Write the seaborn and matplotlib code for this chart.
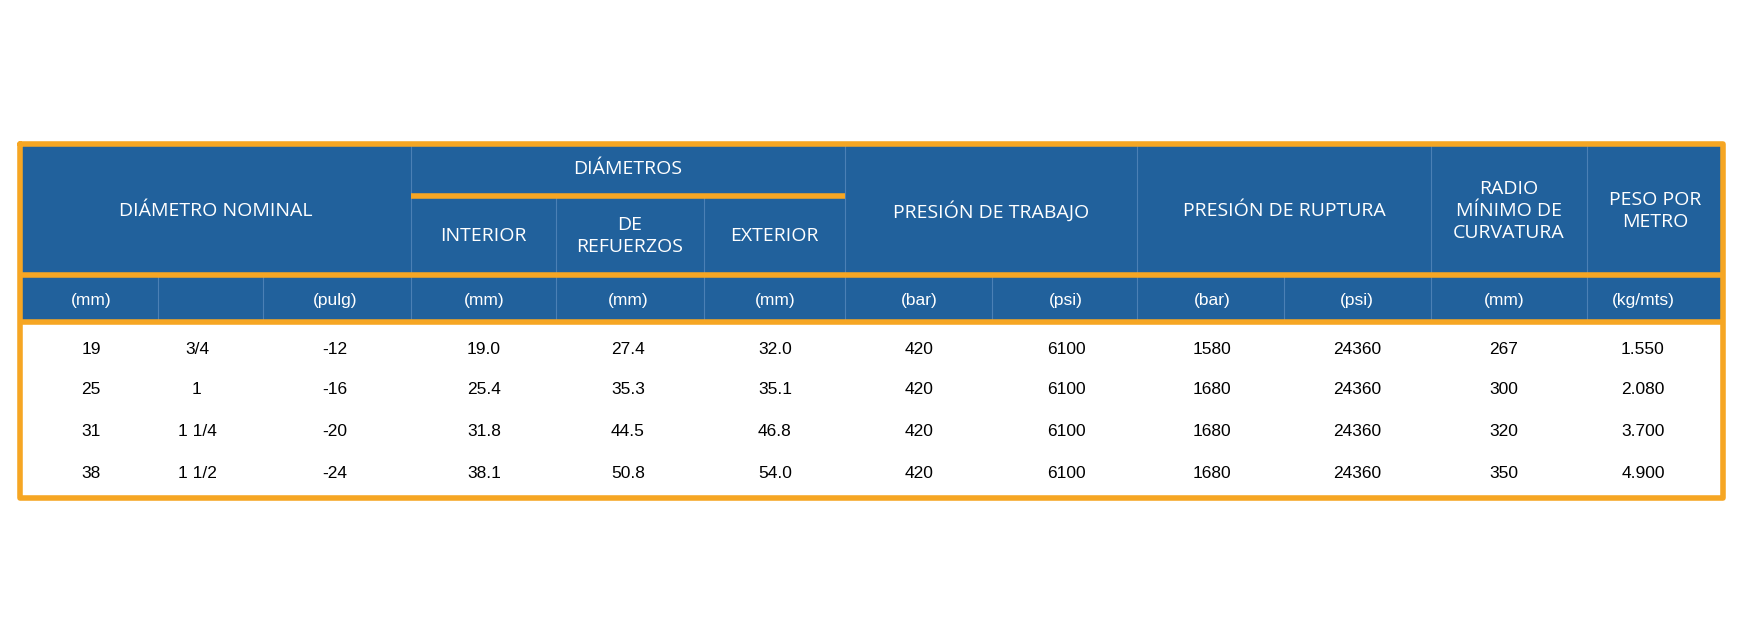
import matplotlib
matplotlib.use("Agg")
import matplotlib.pyplot as plt
import seaborn as sns

sns.set_theme(style="white")

BLUE = "#21619c"
ORANGE = "#f6a623"
SEP = "#4b80b5"

nominal_mm = ["19", "25", "31", "38"]
nominal_in = ["3/4", "1", "1 1/4", "1 1/2"]
dash_size = ["-12", "-16", "-20", "-24"]
d_interior = ["19.0", "25.4", "31.8", "38.1"]
d_refuerzos = ["27.4", "35.3", "44.5", "50.8"]
d_exterior = ["32.0", "35.1", "46.8", "54.0"]
work_bar = ["420", "420", "420", "420"]
work_psi = ["6100", "6100", "6100", "6100"]
burst_bar = ["1580", "1680", "1680", "1680"]
burst_psi = ["24360", "24360", "24360", "24360"]
bend_radius = ["267", "300", "320", "350"]
weight = ["1.550", "2.080", "3.700", "4.900"]

units = ["(mm)", "", "(pulg)", "(mm)", "(mm)", "(mm)", "(bar)", "(psi)",
         "(bar)", "(psi)", "(mm)", "(kg/mts)"]

columns = [nominal_mm, nominal_in, dash_size, d_interior, d_refuerzos, d_exterior,
           work_bar, work_psi, burst_bar, burst_psi, bend_radius, weight]

# column edges in pixels
edges = [20, 158, 263, 411, 556, 704, 845, 992, 1137, 1284, 1431, 1587, 1723]
row_y = [349, 390, 431, 474]

W, H = 1743, 641
fig = plt.figure(figsize=(W / 100, H / 100), dpi=100)
ax = fig.add_axes([0, 0, 1, 1])
ax.set_xlim(0, W)
ax.set_ylim(H, 0)
ax.axis("off")

top, hdr_bot, unit_bot, bot = 144, 275, 322, 498
L, R = edges[0], edges[-1]

# blue header + units band
ax.fill_between([L, R], top, unit_bot, color=BLUE, zorder=1)

# separators in header
for x in [411, 845, 1137, 1431, 1587]:
    ax.plot([x, x], [top, hdr_bot], color=SEP, lw=0.8, zorder=2)
for x in [556, 704]:
    ax.plot([x, x], [196, hdr_bot], color=SEP, lw=0.8, zorder=2)
for x in edges[1:-1]:
    ax.plot([x, x], [hdr_bot, unit_bot], color=SEP, lw=0.8, zorder=2)

# orange lines
ax.plot([411, 845], [196, 196], color=ORANGE, lw=4, solid_capstyle="butt", zorder=3)
ax.plot([L, R], [hdr_bot, hdr_bot], color=ORANGE, lw=4, solid_capstyle="butt", zorder=3)
ax.plot([L, R], [unit_bot, unit_bot], color=ORANGE, lw=4, solid_capstyle="butt", zorder=3)
ax.plot([L, R, R, L, L], [top, top, bot, bot, top], color=ORANGE, lw=4, zorder=4)

hfont = dict(color="white", fontsize=14, family="Open Sans", ha="center",
             va="center", linespacing=1.25)
ax.text((20 + 411) / 2, 211, "DIÁMETRO NOMINAL", **hfont)
ax.text((411 + 845) / 2, 169, "DIÁMETROS", **hfont)
ax.text((411 + 556) / 2, 236, "INTERIOR", **hfont)
ax.text((556 + 704) / 2, 236, "DE\nREFUERZOS", **hfont)
ax.text((704 + 845) / 2, 236, "EXTERIOR", **hfont)
ax.text((845 + 1137) / 2, 211, "PRESIÓN DE TRABAJO", **hfont)
ax.text((1137 + 1431) / 2, 211, "PRESIÓN DE RUPTURA", **hfont)
ax.text((1431 + 1587) / 2, 211, "RADIO\nMÍNIMO DE\nCURVATURA", **hfont)
ax.text((1587 + 1723) / 2, 211, "PESO POR\nMETRO", **hfont)

centers = [91, 197, 335, 484, 628, 775, 919, 1066, 1212, 1357, 1504, 1643]
for cx, u in zip(centers, units):
    ax.text(cx, 300, u, color="white", fontsize=12.5, family="Liberation Sans",
            ha="center", va="center")

for cx, col in zip(centers, columns):
    for y, v in zip(row_y, col):
        ax.text(cx, y, v, color="black", fontsize=12.5, family="Liberation Sans",
                ha="center", va="center")

fig.savefig("out.png", dpi=100, facecolor="white")
